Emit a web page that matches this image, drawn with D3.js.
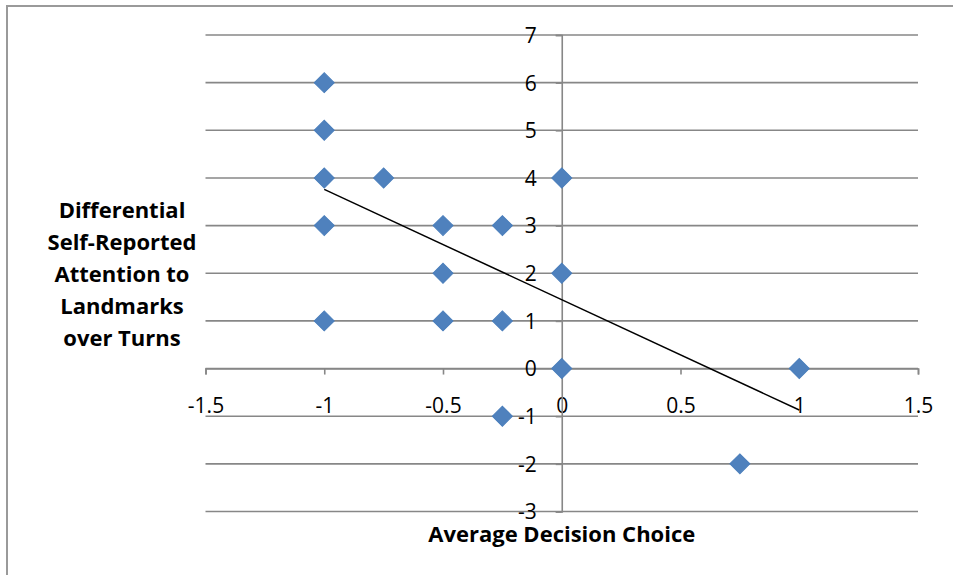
<!DOCTYPE html>
<html>
<head>
<meta charset="utf-8">
<script src="https://cdn.jsdelivr.net/npm/d3@7/dist/d3.min.js"></script>
<style>
  html, body { margin: 0; padding: 0; background: #fff; }
  svg { display: block; }
  text { font-family: "Open Sans", Lato, "Liberation Sans", sans-serif; fill: #000; }
</style>
</head>
<body>
<svg id="chart" width="953" height="575"></svg>
<script>
// Observations: average decision choice (x) vs. differential attention score (y)
const decisionChoice = [-1, -1, -1, -0.75, 0, -1, -0.5, -0.25, -0.5, 0, -1, -0.5, -0.25, 0, 1, -0.25, 0.75];
const attentionDiff  = [ 6,  5,  4,  4,    4, 3,  3,    3,     2,    2, 1,  1,    1,     0, 0, -1,    -2];

// Linear trendline endpoints (x, fitted y)
const trendX = [-1, 1];
const trendY = [3.76, -0.87];

const xTicks = [-1.5, -1, -0.5, 0, 0.5, 1, 1.5];
const yTicks = [-3, -2, -1, 0, 1, 2, 3, 4, 5, 6, 7];

const xTitle = "Average Decision Choice";
const yTitleLines = ["Differential", "Self-Reported", "Attention to", "Landmarks", "over Turns"];

const svg = d3.select("#chart");
const grey = "#878787";
// Plain hyphen-minus for negative tick values
const fmt = d => String(d);

// Outer chart frame
svg.append("path")
  .attr("d", "M7,580 L7,6 L960,6")
  .attr("fill", "none")
  .attr("stroke", "#9a9a9a")
  .attr("stroke-width", 2);

const x = d3.scaleLinear().domain([-1.5, 1.5]).range([205.5, 918]);
const y = d3.scaleLinear().domain([-3, 7]).range([511.5, 35]);

// Horizontal gridlines
svg.append("g")
  .selectAll("line")
  .data(yTicks)
  .join("line")
  .attr("x1", x(-1.5)).attr("x2", x(1.5))
  .attr("y1", d => y(d)).attr("y2", d => y(d))
  .attr("stroke", grey).attr("stroke-width", 1.6);

// X axis crossing at y = 0
const xAxis = d3.axisBottom(x).tickValues(xTicks).tickSize(6).tickFormat(fmt);
const gx = svg.append("g").attr("transform", `translate(0,${y(0)})`).call(xAxis);
gx.select(".domain").attr("stroke", grey).attr("stroke-width", 1.6);
gx.selectAll(".tick line").attr("stroke", grey).attr("stroke-width", 1.6);
gx.selectAll(".tick text")
  .attr("font-size", 21)
  .attr("dy", "0.35em")
  .attr("y", 37);

// Y axis crossing at x = 0
const yAxis = d3.axisLeft(y).tickValues(yTicks).tickSize(6).tickPadding(19).tickFormat(fmt);
const gy = svg.append("g").attr("transform", `translate(${x(0)},0)`).call(yAxis);
gy.select(".domain").attr("stroke", grey).attr("stroke-width", 1.6);
gy.selectAll(".tick line").attr("stroke", grey).attr("stroke-width", 1.6);
gy.selectAll(".tick text")
  .attr("font-size", 21)
  .attr("dy", "0.35em");
svg.selectAll(".tick text")
  .attr("fill", "#000")
  .style("font-family", "'Open Sans', Lato, sans-serif");

// Trendline
svg.append("line")
  .attr("x1", x(trendX[0])).attr("y1", y(trendY[0]))
  .attr("x2", x(trendX[1])).attr("y2", y(trendY[1]))
  .attr("stroke", "#000").attr("stroke-width", 1.5);

// Diamond markers
const points = decisionChoice.map((v, i) => ({ x: v, y: attentionDiff[i] }));
const diamond = d3.symbol().type(d3.symbolSquare).size(200);
svg.append("g")
  .selectAll("path")
  .data(points)
  .join("path")
  .attr("d", diamond)
  .attr("transform", d => `translate(${x(d.x)},${y(d.y)}) rotate(45)`)
  .attr("fill", "#4F81BD")
  .attr("stroke", "#4A7EBB")
  .attr("stroke-width", 1);

// Axis titles
svg.append("text")
  .attr("x", x(0)).attr("y", 542)
  .attr("text-anchor", "middle")
  .attr("font-size", 22).attr("font-weight", "bold")
  .text(xTitle);

svg.append("text")
  .attr("text-anchor", "middle")
  .attr("font-size", 22).attr("font-weight", "bold")
  .selectAll("tspan")
  .data(yTitleLines)
  .join("tspan")
  .attr("x", 122)
  .attr("y", (d, i) => 218 + i * 32)
  .text(d => d);
</script>
</body>
</html>
